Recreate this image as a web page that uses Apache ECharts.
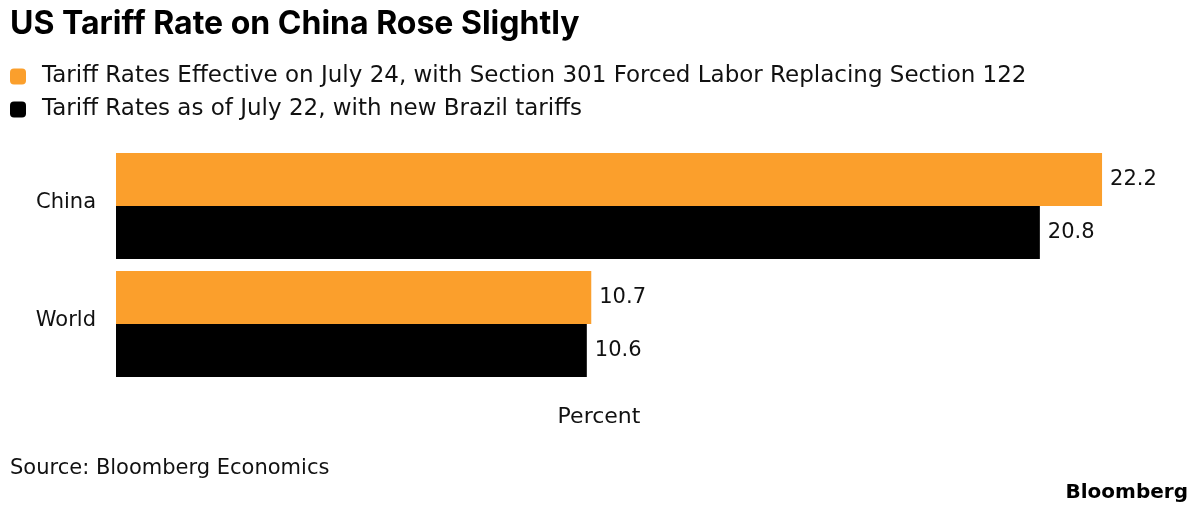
<!DOCTYPE html>
<html>
<head>
<meta charset="utf-8">
<script src="https://cdn.jsdelivr.net/npm/echarts@6/dist/echarts.min.js"></script>
<style>
html,body{margin:0;padding:0;background:#fff;}
#main{width:1200px;height:519px;}
</style>
</head>
<body>
<div id="main"></div>
<script>
const categories = ['China', 'World'];
const seriesNames = [
  'Tariff Rates Effective on July 24, with Section 301 Forced Labor Replacing Section 122',
  'Tariff Rates as of July 22, with new Brazil tariffs'
];
const effectiveJuly24 = [22.2, 10.7];
const asOfJuly22 = [20.8, 10.6];

const TITLE_FONT = 'Inter, "Noto Sans", sans-serif';
const FONT = '"DejaVu Sans", sans-serif';
const chart = echarts.init(document.getElementById('main'));
const labelStyle = {
  show: true, position: 'right', distance: 8,
  color: '#111', fontSize: 21, fontFamily: FONT,
  formatter: p => p.value.toFixed(1)
};
chart.setOption({
  animation: false,
  textStyle: { fontFamily: FONT },
  title: [
    { text: 'US Tariff Rate on China Rose Slightly', left: 5, top: 3,
      textStyle: { fontSize: 32, fontWeight: 700, color: '#000', fontFamily: TITLE_FONT } },
    { text: 'Percent', left: 594, top: 401, textAlign: 'center',
      textStyle: { fontSize: 22, fontWeight: 400, color: '#111', fontFamily: FONT } },
    { text: 'Source: Bloomberg Economics', left: 5, top: 453,
      textStyle: { fontSize: 21, fontWeight: 400, color: '#111', fontFamily: FONT } },
    { text: 'Bloomberg', right: 7, top: 478,
      textStyle: { fontSize: 20, fontWeight: 700, color: '#000', fontFamily: FONT } }
  ],
  legend: {
    orient: 'vertical', left: 10, top: 65, padding: 0,
    itemWidth: 16, itemHeight: 16, itemGap: 10,
    icon: 'roundRect',
    textStyle: { fontSize: 23, color: '#111', fontFamily: FONT, padding: [0, 0, 0, 11] },
    data: seriesNames
  },
  grid: { left: 116, right: 18, top: 147, height: 236 },
  xAxis: {
    type: 'value', min: 0, max: 24,
    axisLine: { show: false }, axisTick: { show: false },
    axisLabel: { show: false }, splitLine: { show: false }
  },
  yAxis: {
    type: 'category', data: categories, inverse: true,
    axisLine: { show: false }, axisTick: { show: false },
    axisLabel: { fontSize: 21, color: '#111', margin: 20, fontFamily: FONT,
      verticalAlign: 'bottom', lineHeight: 6 }
  },
  series: [
    { name: seriesNames[0], type: 'bar', data: effectiveJuly24, barWidth: 53, barGap: '0%',
      itemStyle: { color: '#fb9f2c' }, label: labelStyle },
    { name: seriesNames[1], type: 'bar', data: asOfJuly22, barWidth: 53, barGap: '0%',
      itemStyle: { color: '#000' }, label: labelStyle }
  ]
});
</script>
</body>
</html>
